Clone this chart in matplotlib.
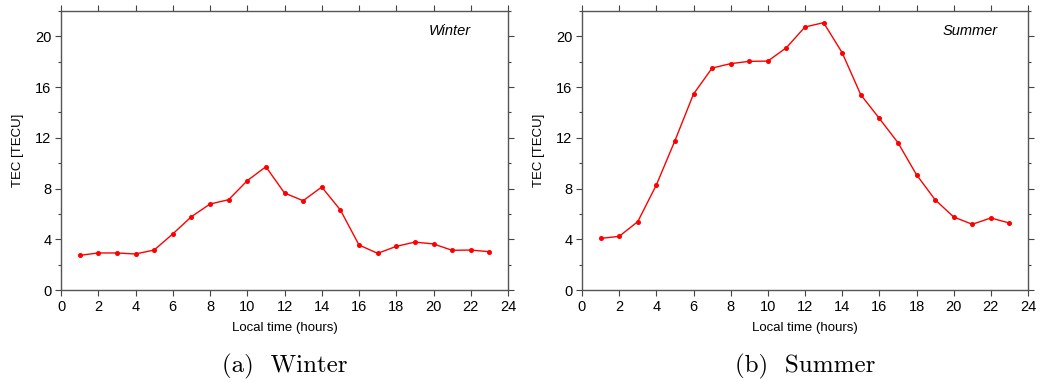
import matplotlib
matplotlib.use("Agg")
import matplotlib.pyplot as plt
from matplotlib.ticker import MultipleLocator

hours = list(range(1, 24))
winter_tec = [2.73, 2.92, 2.92, 2.84, 3.15, 4.42, 5.78, 6.78, 7.12, 8.62, 9.72, 7.65,
              7.04, 8.12, 6.31, 3.55, 2.89, 3.44, 3.78, 3.63, 3.13, 3.15, 3.02]
summer_tec = [4.07, 4.23, 5.39, 8.28, 11.77, 15.45, 17.50, 17.85, 18.03, 18.05, 19.11, 20.74,
              21.08, 18.71, 15.40, 13.53, 11.62, 9.09, 7.12, 5.76, 5.18, 5.68, 5.28]
panels = [("Winter", "(a)  Winter", winter_tec), ("Summer", "(b)  Summer", summer_tec)]

plt.rcParams['font.family'] = ['Liberation Sans', 'DejaVu Sans']

fig = plt.figure(figsize=(10.41, 3.82), dpi=100)
W, H = 1041, 382
boxes = [(61, 11, 447, 279), (582, 11, 446, 279)]  # left, top, width, height in px

for (tag, caption, vals), (l, t, w, h) in zip(panels, boxes):
    ax = fig.add_axes([l / W, 1 - (t + h) / H, w / W, h / H])
    ax.plot(hours, vals, color='#ff0000', lw=1.0, marker='o', ms=2.6)
    ax.set_xlim(0, 24)
    ax.set_ylim(0, 22)
    ax.xaxis.set_major_locator(MultipleLocator(2))
    ax.yaxis.set_major_locator(MultipleLocator(4))
    ax.yaxis.set_minor_locator(MultipleLocator(2))
    ax.tick_params(which='both', direction='out', top=True, right=True,
                   labeltop=False, labelright=False, color='#444444', width=0.8)
    ax.tick_params(which='major', length=4, labelsize=10.5, pad=3)
    ax.tick_params(which='minor', length=2.5)
    for s in ax.spines.values():
        s.set_color('#555555')
        s.set_linewidth(1.0)
    ax.set_xlabel("Local time (hours)", fontsize=9.5, labelpad=6)
    ax.set_ylabel("TEC [TECU]", fontsize=9.5, labelpad=8)
    ax.text(0.87, 0.93, tag, transform=ax.transAxes, style='italic',
            fontsize=10.5, ha='center', va='center')
    fig.text((l + w / 2) / W, 1 - 366 / H, caption, fontname='cmr10',
             fontsize=18, ha='center', va='center')

fig.savefig("out.png", dpi=100)
